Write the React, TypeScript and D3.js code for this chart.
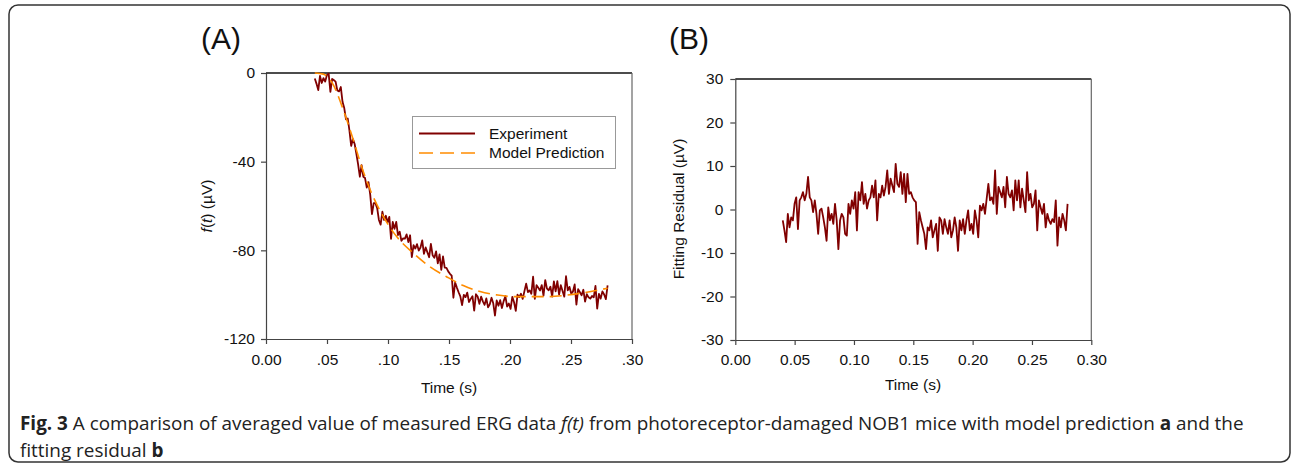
import React, { useEffect, useRef } from 'react';
import * as d3 from 'd3';

// sampled between 0.04 s and 0.28 s, evenly
const sampleStart = 0.04;
const sampleEnd = 0.28;

// measured ERG f(t), µV (panel A, solid)
const experiment = [
  -2.5, -4.9, -7.7, -1.3, -4.5, -2.3, -3.9, -0.9, -0.3, -8.5,
  -2.7, -3.2, -3.9, -7.9, -8.3, -6.3, -13.0, -15.8, -20.9, -20.5,
  -26.0, -32.9, -29.8, -32.0, -36.5, -41.2, -46.8, -41.6, -46.8, -47.4,
  -51.7, -49.2, -55.0, -63.7, -58.7, -58.7, -61.0, -66.3, -68.4, -62.6,
  -66.3, -64.4, -67.4, -64.9, -74.8, -67.2, -70.3, -67.2, -73.1, -71.6,
  -75.7, -74.6, -74.7, -72.8, -76.3, -73.2, -83.1, -77.7, -79.2, -77.2,
  -80.1, -78.7, -75.5, -81.6, -78.7, -80.9, -83.1, -77.1, -82.2, -83.4,
  -80.5, -85.9, -81.8, -88.8, -82.7, -87.8, -87.9, -89.5, -90.6, -91.4,
  -101.4, -94.5, -96.8, -98.9, -100.8, -104.7, -100.1, -101.1, -99.1, -103.3,
  -101.9, -100.7, -107.2, -99.8, -100.8, -104.1, -100.9, -103.0, -104.6, -101.7,
  -105.7, -104.3, -101.4, -103.9, -109.4, -102.6, -105.0, -102.5, -106.0, -102.9,
  -100.7, -105.4, -104.0, -106.4, -101.0, -103.4, -107.3, -100.0, -101.1, -99.6,
  -101.9, -98.4, -95.0, -98.8, -98.1, -99.6, -91.9, -101.9, -95.7, -96.9,
  -98.1, -95.7, -100.4, -93.4, -97.3, -98.0, -96.4, -100.9, -94.0, -98.5,
  -93.9, -100.0, -95.7, -98.3, -100.9, -91.7, -98.1, -96.5, -99.5, -98.6,
  -95.4, -104.5, -97.5, -98.9, -100.3, -97.8, -103.1, -99.8, -101.2, -101.8,
  -100.6, -101.2, -96.0, -106.3, -99.6, -101.8, -98.5, -99.9, -102.0, -95.8,
];

// fitting residual, µV (panel B)
const residual = [
  -2.5, -4.8, -7.5, -1.0, -4.1, -1.8, -2.5, 1.3, 2.8, -4.5,
  2.1, 2.8, 4.0, 2.1, 3.6, 7.5, 2.8, 2.1, -0.6, 2.1,
  -1.0, -5.6, -0.2, 0.2, -1.8, -4.1, -7.2, 0.5, -2.5, -1.0,
  -3.3, 1.3, -2.5, -9.1, -2.5, -1.0, -1.8, -5.6, -6.0, 1.3,
  -1.0, 2.1, 0.2, 4.0, -4.8, 4.0, 2.1, 6.3, 1.3, 3.6,
  0.2, 2.1, 2.8, 5.5, 2.8, 6.7, -2.5, 3.6, 2.8, 5.5,
  3.2, 5.2, 9.0, 3.6, 7.1, 5.5, 4.0, 10.5, 5.9, 5.2,
  8.6, 3.6, 8.2, 1.7, 8.2, 3.6, 4.0, 2.8, 2.1, 1.7,
  -7.9, -0.6, -2.5, -4.1, -5.6, -9.1, -4.1, -4.8, -2.5, -6.4,
  -4.8, -3.3, -9.5, -1.8, -2.5, -5.6, -2.2, -4.1, -5.6, -2.5,
  -6.4, -4.8, -1.8, -4.1, -9.5, -2.5, -4.8, -2.2, -5.6, -2.5,
  -0.2, -4.8, -3.3, -5.6, -0.2, -2.5, -6.4, 0.9, -0.2, 1.3,
  -1.0, 2.5, 5.9, 2.1, 2.8, 1.3, 9.0, -1.0, 5.2, 4.0,
  2.8, 5.2, 0.5, 7.5, 3.6, 2.8, 4.4, -0.2, 6.7, 2.1,
  6.7, 0.5, 4.8, 2.1, -0.6, 8.6, 2.1, 3.6, 0.5, 1.3,
  4.4, -4.8, 2.1, 0.5, -1.0, 1.3, -4.1, -1.0, -2.5, -3.3,
  -2.2, -2.9, 2.1, -8.3, -1.8, -4.1, -1.0, -2.5, -4.8, 1.3,
];

// model prediction (panel A, dashed)
const modelTime = [0.04, 0.047, 0.0552, 0.0634, 0.0716, 0.0784, 0.0866, 0.0962, 0.1071, 0.1208, 0.1344,
  0.148, 0.1617, 0.1754, 0.189, 0.2027, 0.2164, 0.23, 0.2437, 0.2574, 0.28];
const modelValue = [0, -0.5, -5.4, -16.7, -30.2, -42.3, -54.3, -64.8, -73.8, -81.3, -87.4,
  -91.9, -95.9, -98.6, -100.1, -100.9, -100.9, -100.9, -100.4, -99.4, -97.1];

const xTicks = [0, 0.05, 0.1, 0.15, 0.2, 0.25, 0.3];
const xLabelsA = ['0.00', '.05', '.10', '.15', '.20', '.25', '.30'];
const xLabelsB = ['0.00', '0.05', '0.10', '0.15', '0.20', '0.25', '0.30'];
const yTicksA = [0, -40, -80, -120];
const yTicksB = [30, 20, 10, 0, -10, -20, -30];

const FONT = '"Liberation Sans", Arial, sans-serif';
const FS = 15.5;
const RED = '#800000';
const ORANGE = '#ff8c00';

const App = () => {
  const ref = useRef(null);

  useEffect(() => {
    const svg = d3.select(ref.current);
    svg.selectAll('*').remove();

    const times = experiment.map((_, i) => sampleStart + (i * (sampleEnd - sampleStart)) / (experiment.length - 1));

    // outer figure frame
    svg.append('rect')
      .attr('x', 9).attr('y', 5).attr('width', 1281).attr('height', 457)
      .attr('rx', 9)
      .attr('fill', 'none').attr('stroke', '#333').attr('stroke-width', 1.5);

    const drawPanel = (box, yDomain, yTicks, xLabels, yPad, xPad) => {
      const x = d3.scaleLinear().domain([0, 0.3]).range([box.left, box.right]);
      const y = d3.scaleLinear().domain(yDomain).range([box.bottom, box.top]);

      const xAxis = svg.append('g')
        .attr('transform', `translate(0,${box.bottom})`)
        .call(d3.axisBottom(x).tickValues(xTicks).tickFormat((d, i) => xLabels[i])
          .tickSize(5).tickSizeOuter(0).tickPadding(xPad));
      const yAxis = svg.append('g')
        .attr('transform', `translate(${box.left},0)`)
        .call(d3.axisLeft(y).tickValues(yTicks).tickFormat(d => String(d))
          .tickSize(5).tickSizeOuter(0).tickPadding(yPad));

      [xAxis, yAxis].forEach(g => {
        g.select('.domain').attr('stroke', '#444').attr('stroke-width', 1.2);
        g.selectAll('.tick line').attr('stroke', '#444').attr('stroke-width', 1.2);
        g.selectAll('.tick text').attr('font-family', FONT).attr('font-size', FS).attr('fill', '#111');
      });

      // top and right frame
      svg.append('line')
        .attr('x1', box.left).attr('x2', box.right).attr('y1', box.top).attr('y2', box.top)
        .attr('stroke', '#111').attr('stroke-width', 1.5);
      svg.append('line')
        .attr('x1', box.right).attr('x2', box.right).attr('y1', box.top).attr('y2', box.bottom)
        .attr('stroke', '#666').attr('stroke-width', 1.2);

      return { x, y };
    };

    // Panel A
    const boxA = { left: 266, right: 632, top: 73, bottom: 339 };
    const a = drawPanel(boxA, [-120, 0], yTicksA, xLabelsA, 6, 10);

    const lineA = d3.line()
      .x((d, i) => a.x(times[i]))
      .y(d => a.y(d));
    svg.append('path')
      .datum(experiment)
      .attr('fill', 'none').attr('stroke', RED).attr('stroke-width', 1.8)
      .attr('stroke-linejoin', 'round')
      .attr('d', lineA);

    const modelLine = d3.line()
      .x((d, i) => a.x(modelTime[i]))
      .y(d => a.y(d))
      .curve(d3.curveMonotoneX);
    svg.append('path')
      .datum(modelValue)
      .attr('fill', 'none').attr('stroke', ORANGE).attr('stroke-width', 1.6)
      .attr('stroke-dasharray', '12,6')
      .attr('d', modelLine);

    // legend
    const lg = svg.append('g');
    lg.append('rect')
      .attr('x', 412.5).attr('y', 116.5).attr('width', 203).attr('height', 52)
      .attr('fill', '#fff').attr('stroke', '#999').attr('stroke-width', 1);
    lg.append('line').attr('x1', 419).attr('x2', 475).attr('y1', 133.5).attr('y2', 133.5)
      .attr('stroke', RED).attr('stroke-width', 1.8);
    lg.append('line').attr('x1', 419).attr('x2', 475).attr('y1', 153).attr('y2', 153)
      .attr('stroke', ORANGE).attr('stroke-width', 1.6).attr('stroke-dasharray', '14,7');
    lg.append('text').attr('x', 489).attr('y', 133.5).attr('dy', '0.35em')
      .attr('font-family', FONT).attr('font-size', FS).attr('fill', '#111').text('Experiment');
    lg.append('text').attr('x', 489).attr('y', 153).attr('dy', '0.35em')
      .attr('font-family', FONT).attr('font-size', FS).attr('fill', '#111').text('Model Prediction');

    // Panel B
    const boxB = { left: 735.3, right: 1091.3, top: 79, bottom: 340 };
    const b = drawPanel(boxB, [-30, 30], yTicksB, xLabelsB, 7, 9);

    const lineB = d3.line()
      .x((d, i) => b.x(times[i]))
      .y(d => b.y(d));
    svg.append('path')
      .datum(residual)
      .attr('fill', 'none').attr('stroke', RED).attr('stroke-width', 1.8)
      .attr('stroke-linejoin', 'round')
      .attr('d', lineB);

    // axis titles
    const label = (x, y, rotate) => svg.append('text')
      .attr('transform', `translate(${x},${y})${rotate ? ' rotate(-90)' : ''}`)
      .attr('text-anchor', 'middle').attr('dy', '0.35em')
      .attr('font-family', FONT).attr('font-size', FS).attr('fill', '#111');

    label(449, 388, false).text('Time (s)');
    label(913, 385, false).text('Time (s)');
    const fy = label(206.5, 206, true);
    fy.append('tspan').attr('font-style', 'italic').text('f');
    fy.append('tspan').text('(');
    fy.append('tspan').attr('font-style', 'italic').text('t');
    fy.append('tspan').text(') (\u00b5V)');
    label(679, 209, true).text('Fitting Residual (\u00b5V)');

    // panel letters
    svg.append('text').attr('x', 201).attr('y', 49)
      .attr('font-family', FONT).attr('font-size', 30).attr('fill', '#111').text('(A)');
    svg.append('text').attr('x', 669).attr('y', 49)
      .attr('font-family', FONT).attr('font-size', 30).attr('fill', '#111').text('(B)');

    // caption
    const capFont = '"Open Sans", "Noto Sans", sans-serif';
    const c1 = svg.append('text').attr('x', 20).attr('y', 430)
      .attr('font-family', capFont).attr('font-size', 18.9).attr('fill', '#222');
    c1.append('tspan').attr('font-weight', 'bold').text('Fig. 3');
    c1.append('tspan').text(' A comparison of averaged value of measured ERG data ');
    c1.append('tspan').attr('font-style', 'italic').text('f(t)');
    c1.append('tspan').text(' from photoreceptor-damaged NOB1 mice with model prediction ');
    c1.append('tspan').attr('font-weight', 'bold').text('a');
    c1.append('tspan').text(' and the');
    const c2 = svg.append('text').attr('x', 20).attr('y', 457)
      .attr('font-family', capFont).attr('font-size', 18.9).attr('fill', '#222');
    c2.append('tspan').text('fitting residual ');
    c2.append('tspan').attr('font-weight', 'bold').text('b');
  }, []);

  return (
    <svg ref={ref} width={1292} height={467}
      style={{ position: 'absolute', left: 0, top: 0, background: '#fff' }} />
  );
};

export default App;
